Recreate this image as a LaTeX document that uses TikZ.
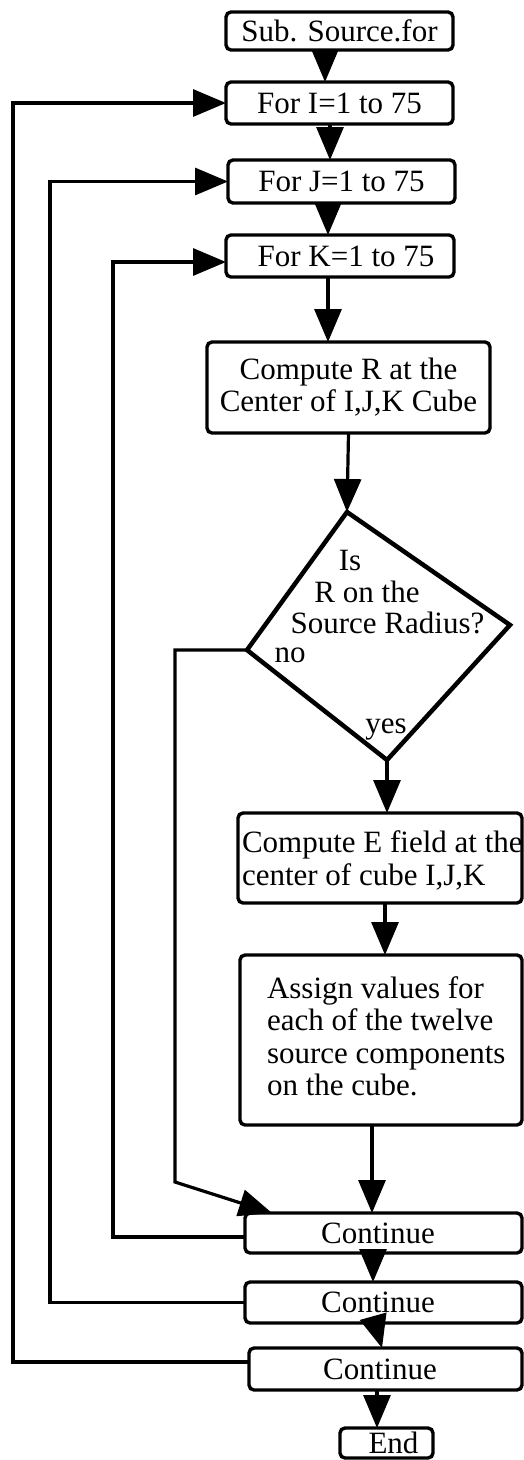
\documentclass[tikz,border=0pt]{standalone}
\usepackage{fontspec}
\setmainfont{Liberation Serif}
\usetikzlibrary{arrows.meta}
\newcommand\flowfont{\fontsize{31pt}{32pt}\selectfont}
\begin{document}
\begin{tikzpicture}[x=1pt,y=-1pt,
  box/.style={draw, line width=3.4pt, rounded corners=5pt, inner sep=0pt, outer sep=0pt, align=center, font=\flowfont},
  txt/.style={inner sep=0pt, outer sep=0pt, font=\flowfont, anchor=base},
  ltxt/.style={inner sep=0pt, outer sep=0pt, font=\flowfont, anchor=base west},
  arr/.style={line width=3.2pt, line join=miter, -{Triangle[width=27pt,length=33pt]}},
  diam/.style={line width=4.5pt, line join=miter}]
\useasboundingbox (0,0) rectangle (524,1460);

% boxes
\node[box, minimum width=227pt, minimum height=38pt] (sub) at (339.5,31) {Sub. Source.for};
\node[box, minimum width=227pt, minimum height=42pt] (fori) at (339.5,103) {For I=1 to 75};
\node[box, minimum width=227pt, minimum height=43pt] (forj) at (341.5,181.5) {For J=1 to 75};
\node[box, minimum width=228pt, minimum height=42pt] (fork) at (340,256) {\hspace*{12pt}For K=1 to 75};
\node[box, minimum width=283pt, minimum height=91pt] (compR) at (348.5,387.5) {Compute R at the\\Center of I,J,K Cube};

% decision
\coordinate (dT) at (347,512);
\coordinate (dR) at (510,625);
\coordinate (dB) at (387,760);
\coordinate (dL) at (247,650);
\draw[diam] (dT) -- (dR) -- (dB) -- (dL) -- cycle;
\node[txt] (is) at (350,570) {Is};
\node[txt] (ron) at (367,602) {R on the};
\node[txt] (srad) at (387.5,633) {Source Radius?};
\node[txt] (no) at (290,662) {no};
\node[txt] (yes) at (386,733) {yes};

\node[box, minimum width=284pt, minimum height=90pt] (compE) at (380,858) {};
\node[ltxt] (compEa) at (242,852) {Compute E field at the};
\node[ltxt] (compEb) at (242,885) {center of cube I,J,K};

\node[box, minimum width=282pt, minimum height=170pt] (assign) at (381,1040) {};
\node[ltxt] (as1) at (267,998) {Assign values for};
\node[ltxt] (as2) at (267,1030) {each of the twelve};
\node[ltxt] (as3) at (267,1063) {source components};
\node[ltxt] (as4) at (267,1095) {on the cube.};

\node[box, minimum width=277pt, minimum height=40pt] (cont1) at (383.5,1233) {\hspace*{-11pt}Continue};
\node[box, minimum width=277pt, minimum height=41pt] (cont2) at (383.5,1302.5) {\hspace*{-11pt}Continue};
\node[box, minimum width=273pt, minimum height=42pt] (cont3) at (385.5,1369) {\hspace*{-11pt}Continue};
\node[box, minimum width=93pt, minimum height=30pt] (end) at (386.5,1443) {\hspace*{14pt}End};

% main flow
\draw[arr] ([xshift=-14.5pt]sub.south) -- ([xshift=-14.5pt]fori.north);
\draw[arr] ([xshift=-9.5pt]fori.south) -- ([xshift=-11.5pt]forj.north);
\draw[arr] ([xshift=-13.5pt]forj.south) -- ([xshift=-12pt]fork.north);
\draw[arr] ([xshift=-12pt]fork.south) -- ([xshift=-20.5pt]compR.north);
\draw[arr] (compR.south) -- (dT);
\draw[arr] (dB) -- ([xshift=7pt]compE.north);
\draw[arr] ([xshift=5pt]compE.south) -- ([xshift=4pt]assign.north);
\draw[arr] ([xshift=-9pt]assign.south) -- ([xshift=-11.5pt]cont1.north);
\draw[arr] ([xshift=-10.5pt]cont1.south) -- ([xshift=-10.5pt]cont2.north);
\draw[arr] ([xshift=-8.5pt]cont2.south) -- ([xshift=-3.5pt]cont3.north);
\draw[arr] ([xshift=-8.5pt]cont3.south) -- ([xshift=-9.5pt]end.north);

% loop returns
\coordinate (xI) at (13,0);
\coordinate (xJ) at (50,0);
\coordinate (xK) at (113,0);
\coordinate (xN) at (175,0);
\coordinate (kin) at ([yshift=-6pt]fork.west);
\coordinate (kout) at ([yshift=-4pt]cont1.west);
\coordinate (iout) at ([yshift=7pt]cont3.west);
\draw[arr] (iout) -| (fori.west -| xI) -- (fori.west);
\draw[arr] (cont2.west) -| (forj.west -| xJ) -- (forj.west);
\draw[arr] (kout) -| (kin -| xK) -- (kin);

% "no" branch
\coordinate (nb) at (0,1182);
\coordinate (ntip) at ([xshift=27pt]cont1.north west);
\draw[arr] (dL) -- (dL -| xN) -- (xN |- nb) -- (ntip);
\end{tikzpicture}
\end{document}
